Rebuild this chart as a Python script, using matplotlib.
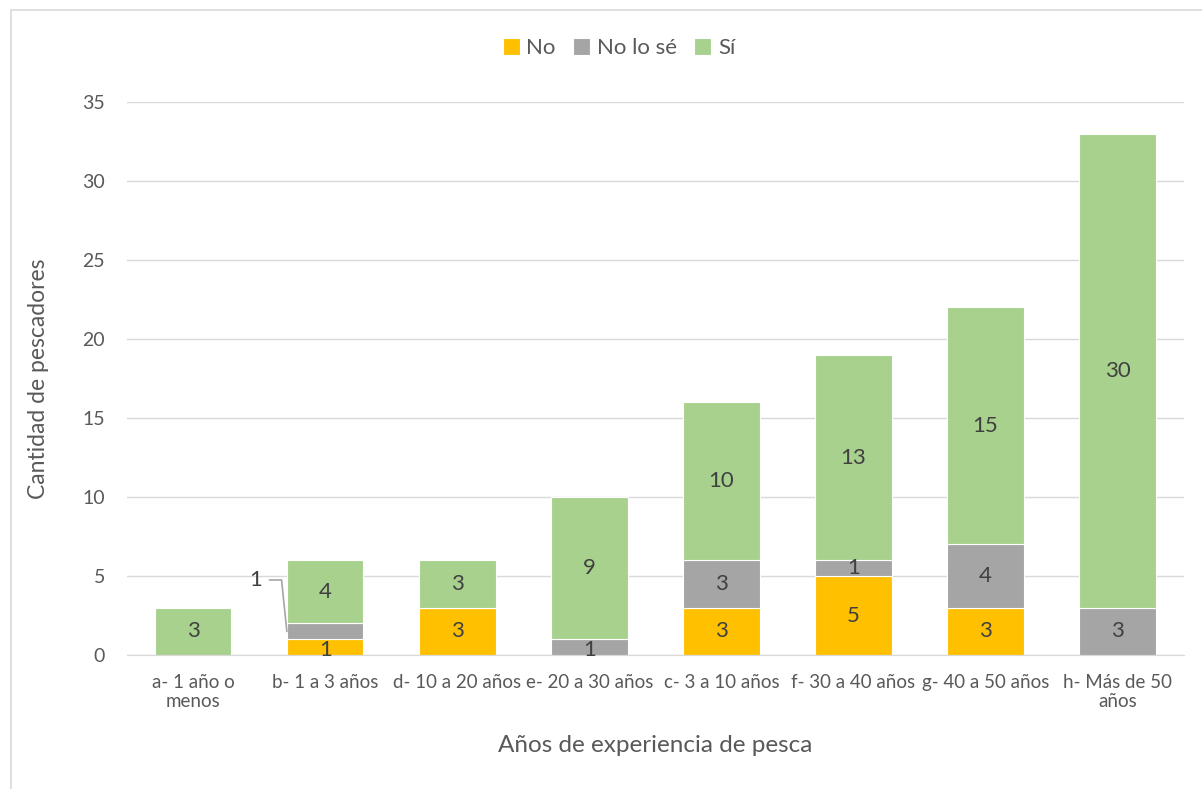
import numpy as np
from matplotlib import pyplot as plt
from matplotlib.patches import Rectangle

plt.rcParams['font.family'] = ['Lato', 'DejaVu Sans']

# data
categorias = ["a- 1 año o\nmenos", "b- 1 a 3 años", "d- 10 a 20 años", "e- 20 a 30 años",
              "c- 3 a 10 años", "f- 30 a 40 años", "g- 40 a 50 años", "h- Más de 50\naños"]
no = [0, 1, 3, 0, 3, 5, 3, 0]
no_lo_se = [0, 1, 0, 1, 3, 1, 4, 3]
si = [3, 4, 3, 9, 10, 13, 15, 30]
series_names = ["No", "No lo sé", "Sí"]
colores = ["#FFC000", "#A5A5A5", "#A9D18E"]

fig = plt.figure(figsize=(12.02, 7.89), dpi=100)
ax = fig.add_axes([0.1057, 0.1698, 0.879, 0.7009])

# chart border
fig.patches.append(Rectangle((0.009, -0.01), 1.2, 0.997, transform=fig.transFigure,
                             fill=False, edgecolor="#d9d9d9", linewidth=1.2))

x = np.arange(len(categorias))
w = 0.58
bottom = np.zeros(len(categorias))
txt_col = "#404040"
for vals, name, col in zip([no, no_lo_se, si], series_names, colores):
    vals = np.array(vals)
    ax.bar(x, vals, w, bottom=bottom, color=col, edgecolor="white", linewidth=0.8,
           label=name, zorder=2)
    for i, v in enumerate(vals):
        if v == 0:
            continue
        yc = bottom[i] + v / 2
        if name == "No lo sé" and i == 1:
            # label moved out to the left with a leader line
            xl = x[i] - w / 2
            ax.plot([xl - 0.13, xl - 0.04, xl], [yc + 3.25, yc + 3.25, yc],
                    color="#a6a6a6", lw=1.2, zorder=3, solid_joinstyle="miter")
            ax.text(xl - 0.19, yc + 3.25, str(v), ha="right", va="center", fontsize=16,
                    color=txt_col)
            continue
        if v == 1 and bottom[i] == 0:
            yc = 0.3
        ax.text(x[i], yc, str(v), ha="center", va="center", fontsize=16, color=txt_col, zorder=3)
    bottom += vals

ax.set_xlim(-0.5, len(categorias) - 0.5)
ax.set_ylim(0, 35)
ax.set_yticks(range(0, 36, 5))
ax.set_xticks(x)
ax.set_xticklabels(categorias, fontsize=13.5, color="#595959", linespacing=1.1)
ax.tick_params(axis="y", labelsize=14, colors="#595959", length=0, pad=16)
ax.tick_params(axis="x", length=0, pad=14)
ax.grid(axis="y", color="#d9d9d9", linewidth=1, zorder=0)
for s in ["top", "right", "left"]:
    ax.spines[s].set_visible(False)
ax.spines["bottom"].set_color("#d9d9d9")
ax.set_axisbelow(True)

ax.set_ylabel("Cantidad de pescadores", fontsize=16.5, color="#595959", labelpad=24)
ax.set_xlabel("Años de experiencia de pesca", fontsize=17.5, color="#595959", labelpad=18)

fig.legend(loc="center", bbox_to_anchor=(0.515, 0.939), ncol=3, frameon=False, fontsize=16,
           handlelength=0.75, handleheight=0.75, handletextpad=0.3, columnspacing=0.8,
           labelcolor="#595959")

plt.savefig("out.png")
